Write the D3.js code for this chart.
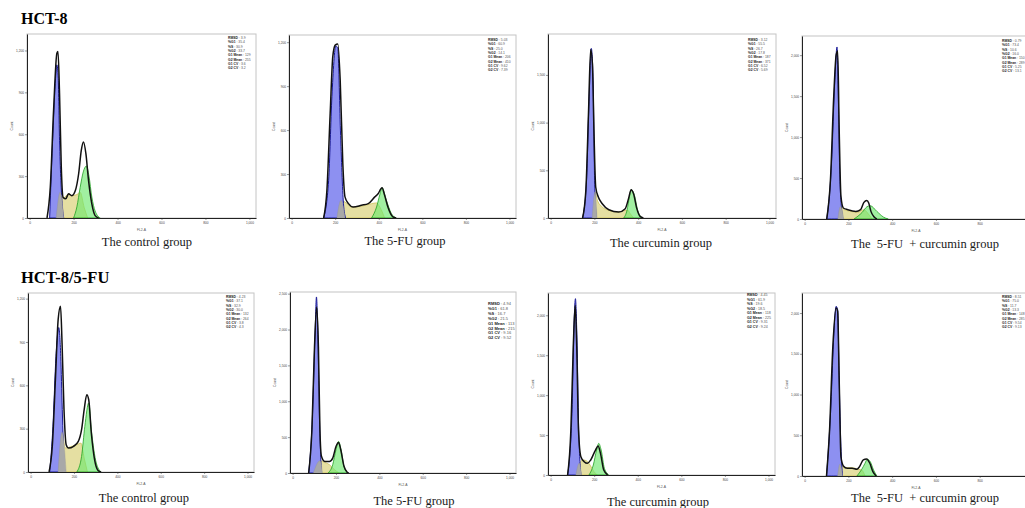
<!DOCTYPE html>
<html>
<head>
<meta charset="utf-8">
<script src="https://cdn.jsdelivr.net/npm/d3@7"></script>
<style>
  body { margin: 0; background: #fff; }
  svg { display: block; }
</style>
</head>
<body>
<script>
// channel (FL2-A) vs count
// HCT-8
var black1 = [[79,0],[94,221],[109,773],[124,1181],[129,1193],[136,893],[144,365],[152,149],[164,137],[177,173],[192,160],[208,197],[223,317],[235,485],[245,545],[256,461],[268,269],[283,101],[298,17],[314,0]];
var blue1 = [[91,0],[106,605],[118,1000],[124,1097],[130,1000],[136,557],[147,125],[155,0]];
var gray1 = [[121,0],[139,185],[155,0]];
var yellow1 = [[121,0],[139,185],[155,144],[177,173],[192,160],[215,168],[230,185],[248,77],[264,0]];
var green1 = [[200,0],[215,80],[230,220],[244,330],[258,372],[270,300],[283,150],[298,50],[321,0]];

var black2 = [[147,0],[162,189],[177,714],[189,1101],[200,1180],[212,1188],[223,942],[235,372],[245,144],[261,98],[283,75],[321,87],[352,98],[382,144],[397,166],[415,207],[427,155],[442,75],[465,7],[480,0]];
var blue2 = [[147,0],[170,258],[185,828],[203,1174],[212,1158],[224,600],[238,98],[248,0]];
var gray2 = [[208,0],[227,121],[245,0]];
var yellow2 = [[208,0],[227,121],[245,109],[276,75],[321,80],[367,98],[390,103],[405,75],[427,0]];
var green2 = [[367,0],[390,75],[405,160],[415,207],[435,121],[458,30],[480,0]];

var black3 = [[146,0],[161,290],[173,1095],[183,1767],[191,1620],[198,920],[206,325],[218,220],[236,150],[266,87],[311,63],[341,98],[356,203],[368,297],[379,255],[394,98],[409,17],[424,0]];
var blue3 = [[146,0],[164,395],[176,1270],[186,1778],[194,1445],[201,395],[209,0]];
var gray3 = [[190,0],[203,273],[212,0]];
var yellow3 = [[190,0],[203,273],[214,185],[236,115],[266,80],[311,63],[341,80],[353,80],[364,45],[379,0]];
var green3 = [[334,0],[349,80],[360,220],[368,297],[383,238],[398,80],[416,0]];

var black4 = [[101,0],[118,478],[133,1492],[144,2000],[151,2052],[158,1087],[166,276],[177,134],[197,114],[234,93],[256,114],[271,203],[284,227],[293,195],[303,93],[318,24],[330,0]];
var blue4 = [[101,0],[123,681],[138,1695],[148,2100],[154,1492],[160,600],[168,150],[175,0]];
var gray4 = [[152,0],[164,154],[179,0]];
var yellow4 = [[152,0],[164,154],[182,114],[212,93],[241,81],[271,114],[288,73],[308,0]];
var green4 = [[226,0],[263,81],[285,150],[300,162],[330,93],[360,24],[382,0]];

// HCT-8/5-FU
var black5 = [[85,0],[100,178],[115,662],[127,1055],[138,1147],[145,893],[154,432],[164,189],[175,166],[198,178],[220,212],[235,293],[247,432],[259,535],[268,500],[280,270],[295,85],[310,12],[325,0]];
var blue5 = [[88,0],[103,316],[117,800],[130,1000],[139,800],[146,432],[155,0]];
var gray5 = [[127,0],[145,275],[164,0]];
var yellow5 = [[127,0],[145,275],[160,166],[190,178],[213,189],[232,200],[247,97],[262,0]];
var green5 = [[213,0],[235,108],[250,316],[268,478],[280,293],[303,62],[325,0]];

var black6 = [[74,0],[89,602],[101,1759],[111,2315],[119,1759],[126,602],[133,232],[148,162],[170,162],[185,208],[200,370],[212,426],[222,324],[237,93],[252,9],[259,0]];
var blue6 = [[74,0],[92,833],[104,1991],[110,2454],[116,1991],[124,741],[133,0]];
var gray6 = [[96,0],[126,171],[138,0]];
var yellow6 = [[96,0],[126,171],[148,148],[170,116],[193,46],[215,0]];
var green6 = [[163,0],[185,116],[200,324],[212,440],[222,347],[237,93],[255,0]];

var black7 = [[78,0],[93,563],[104,1604],[113,2125],[120,1604],[128,563],[139,229],[154,167],[169,146],[184,188],[206,313],[218,363],[229,271],[244,63],[262,0]];
var blue7 = [[78,0],[98,771],[108,1938],[114,2208],[120,1813],[129,563],[139,0]];
var gray7 = [[116,0],[131,146],[142,0]];
var yellow7 = [[116,0],[131,146],[151,188],[166,175],[181,125],[199,42],[214,0]];
var green7 = [[176,0],[196,125],[211,313],[221,396],[232,313],[247,83],[267,0]];

var black8 = [[100,0],[114,566],[129,1590],[144,2061],[151,2020],[158,1180],[166,238],[177,123],[195,94],[217,94],[239,82],[251,115],[268,197],[283,209],[298,156],[312,53],[327,0]];
var blue8 = [[100,0],[122,975],[133,1713],[144,2082],[151,2041],[158,1180],[166,361],[173,0]];
var gray8 = [[151,0],[161,143],[173,0]];
var yellow8 = [[151,0],[161,143],[180,102],[217,102],[246,82],[261,74],[276,0]];
var green8 = [[239,0],[261,82],[276,156],[286,205],[300,176],[315,74],[330,0]];

var statNames = ["RMSD", "%G1", "%S", "%G2", "G1 Mean", "G2 Mean", "G1 CV", "G2 CV"];
var stats1 = ["3.9", "35.4", "30.9", "33.7", "129", "255", "3.6", "3.2"];
var stats2 = ["5.03", "60.9", "25.0", "14.1", "206", "410", "9.62", "7.39"];
var stats3 = ["3.12", "55.5", "26.7", "17.8", "187", "371", "6.52", "5.69"];
var stats4 = ["0.79", "73.4", "10.6", "16.0", "150", "289", "5.25", "13.1"];
var stats5 = ["4.23", "37.1", "32.9", "30.0", "132", "264", "3.8", "4.3"];
var stats6 = ["4.94", "61.8", "16.7", "21.5", "113", "215", "9.16", "9.52"];
var stats7 = ["4.45", "61.9", "19.6", "18.5", "118", "225", "9.31", "9.24"];
var stats8 = ["8.51", "75.0", "11.7", "13.3", "148", "285", "9.54", "9.13"];

var xTicks = [0, 200, 400, 600, 800, 1000];
var yTicks1200 = [0, 300, 600, 900, 1200];
var yTicks1500 = [0, 500, 1000, 1500];
var yTicks2000 = [0, 500, 1000, 1500, 2000];
var yTicks2500 = [0, 500, 1000, 1500, 2000, 2500];

var groupTitles = ["HCT-8", "HCT-8/5-FU"];
var captions = ["The control group", "The 5-FU group", "The curcumin group", "The  5-FU  + curcumin group"];

var pageWidth = 1025;

var svg = d3.select("body").append("svg")
    .attr("width", pageWidth)
    .attr("height", 508);

// frame = [left, top, right, bottom]
var panels = [
    { frame: [27, 34, 256, 218], yMax: 1318, yTicks: yTicks1200, black: black1, blue: blue1, gray: gray1, yellow: yellow1, green: green1, stats: stats1, cap: 0, capX: 147, capY: 246, statY: 5, statSize: 3.4 },
    { frame: [289, 35, 516, 218], yMax: 1249, yTicks: yTicks1200, black: black2, blue: blue2, gray: gray2, yellow: yellow2, green: green2, stats: stats2, cap: 1, capX: 405, capY: 245, statY: 6, statSize: 3.4 },
    { frame: [548, 34, 776, 218], yMax: 1929, yTicks: yTicks1500, black: black3, blue: blue3, gray: gray3, yellow: yellow3, green: green3, stats: stats3, cap: 2, capX: 661, capY: 247, statY: 7, statSize: 3.4 },
    { frame: [802, 36, 1030, 219], yMax: 2234, yTicks: yTicks2000, black: black4, blue: blue4, gray: gray4, yellow: yellow4, green: green4, stats: stats4, cap: 3, capX: 925, capY: 248, statY: 6, statSize: 3.4 },
    { frame: [28, 293, 254, 472], yMax: 1239, yTicks: yTicks1200, black: black5, blue: blue5, gray: gray5, yellow: yellow5, green: green5, stats: stats5, cap: 0, capX: 144, capY: 502, statY: 5, statSize: 3.4 },
    { frame: [290, 292, 516, 473], yMax: 2523, yTicks: yTicks2500, black: black6, blue: blue6, gray: gray6, yellow: yellow6, green: green6, stats: stats6, cap: 1, capX: 414, capY: 505, statY: 13, statSize: 4 },
    { frame: [548, 293, 775, 475], yMax: 2279, yTicks: yTicks2000, black: black7, blue: blue7, gray: gray7, yellow: yellow7, green: green7, stats: stats7, cap: 2, capX: 658, capY: 506, statY: 3, statSize: 3.6 },
    { frame: [802, 293, 1030, 476], yMax: 2246, yTicks: yTicks2000, black: black8, blue: blue8, gray: gray8, yellow: yellow8, green: green8, stats: stats8, cap: 3, capX: 925, capY: 502, statY: 5, statSize: 3.4 }
];

svg.append("text")
    .attr("x", 21).attr("y", 24)
    .style("font-family", "Liberation Serif")
    .style("font-weight", "bold")
    .style("font-size", "16px")
    .text(groupTitles[0]);

svg.append("text")
    .attr("x", 21).attr("y", 283)
    .style("font-family", "Liberation Serif")
    .style("font-weight", "bold")
    .style("font-size", "16.5px")
    .text(groupTitles[1]);

panels.forEach(function(p) {
    var f = p.frame;
    var x = d3.scaleLinear().domain([-12, 1030]).range([f[0], f[2]]);
    var y = d3.scaleLinear().domain([0, p.yMax]).range([f[3], f[1]]);

    var g = svg.append("g");

    g.append("rect")
        .attr("x", f[0]).attr("y", f[1])
        .attr("width", f[2] - f[0]).attr("height", f[3] - f[1])
        .attr("fill", "#fff")
        .attr("stroke", "#c4c4c4")
        .attr("stroke-width", 1);

    var area = d3.area()
        .curve(d3.curveMonotoneX)
        .x(function(d) { return x(d[0]); })
        .y0(y(0))
        .y1(function(d) { return y(d[1]); });

    var line = d3.line()
        .curve(d3.curveMonotoneX)
        .x(function(d) { return x(d[0]); })
        .y(function(d) { return y(d[1]); });

    g.append("path").attr("d", area(p.yellow))
        .attr("fill", "#e2dc98").attr("fill-opacity", 0.9)
        .attr("stroke", "#c8bd48").attr("stroke-width", 0.7);
    g.append("path").attr("d", area(p.blue))
        .attr("fill", "#8184f0").attr("fill-opacity", 0.9)
        .attr("stroke", "#1a1a96").attr("stroke-width", 1);
    g.append("path").attr("d", area(p.green))
        .attr("fill", "#6fe86f").attr("fill-opacity", 0.65)
        .attr("stroke", "#22a022").attr("stroke-width", 0.8);
    g.append("path").attr("d", area(p.gray))
        .attr("fill", "#a8a8a8").attr("stroke", "#999").attr("stroke-width", 0.4);
    g.append("path").attr("d", line(p.black))
        .attr("fill", "none").attr("stroke", "#111").attr("stroke-width", 1.5);

    // axes; ticks that fall past the page edge are left out
    var xAxis = d3.axisBottom(x)
        .tickValues(xTicks.filter(function(t) { return x(t) < pageWidth - 6; }))
        .tickSize(2)
        .tickSizeOuter(0);
    var gx = g.append("g")
        .attr("transform", "translate(0," + f[3] + ")")
        .call(xAxis);

    var yAxis = d3.axisLeft(y)
        .tickValues(p.yTicks)
        .tickSize(2)
        .tickSizeOuter(0);
    var gy = g.append("g")
        .attr("transform", "translate(" + f[0] + ",0)")
        .call(yAxis);

    [gx, gy].forEach(function(a) {
        a.select(".domain").attr("stroke", "#222").attr("stroke-width", 1);
        a.selectAll(".tick line").attr("stroke", "#333").attr("stroke-width", 0.5);
        a.selectAll(".tick text")
            .style("font-family", "Liberation Sans")
            .style("font-size", "3.2px")
            .attr("fill", "#444");
    });
    gy.selectAll(".tick text").attr("x", -3).attr("dy", "0.32em");
    gx.selectAll(".tick text").attr("y", 4);

    g.append("text")
        .attr("transform", "translate(" + (f[0] - 14) + "," + ((f[1] + f[3]) / 2) + ") rotate(-90)")
        .attr("text-anchor", "middle")
        .style("font-family", "Liberation Sans")
        .style("font-size", "3.4px")
        .attr("fill", "#555")
        .text("Count");

    g.append("text")
        .attr("x", (f[0] + f[2]) / 2).attr("y", f[3] + 13)
        .attr("text-anchor", "middle")
        .style("font-family", "Liberation Sans")
        .style("font-size", "3.4px")
        .attr("fill", "#555")
        .text("FL2-A");

    // fit statistics box
    var st = g.append("text")
        .style("font-family", "Liberation Sans")
        .style("font-size", p.statSize + "px")
        .attr("fill", "#222");
    statNames.forEach(function(n, i) {
        var t = st.append("tspan")
            .attr("x", f[2] - 28)
            .attr("y", f[1] + p.statY + i * (p.statSize + 0.9));
        t.append("tspan").style("font-weight", "bold").text(n);
        t.append("tspan").attr("fill", "#555").text(" : " + p.stats[i]);
    });

    svg.append("text")
        .attr("x", p.capX).attr("y", p.capY)
        .attr("text-anchor", "middle")
        .style("font-family", "Liberation Serif")
        .style("font-size", "12.5px")
        .style("white-space", "pre")
        .attr("fill", "#1a1a1a")
        .text(captions[p.cap]);
});
</script>
</body>
</html>
